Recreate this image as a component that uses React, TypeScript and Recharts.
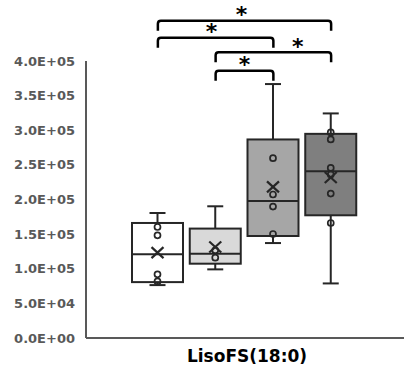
import React from 'react';
import { ComposedChart, Bar, XAxis, YAxis, ReferenceLine } from 'recharts';

const groups = ['G1', 'G2', 'G3', 'G4'];
const whiskerMin = [76400, 99100, 137100, 78800];
const q1 = [80700, 107300, 147300, 177200];
const median = [120800, 121800, 197900, 240900];
const q3 = [166100, 158000, 286700, 294800];
const whiskerMax = [180500, 190200, 366700, 324300];
const means = [123300, 131400, 218200, 231800];
const points = [
  [160300, 148300, 91900, 81700],
  [126600, 116000],
  [259700, 207200, 189800, 150200],
  [296900, 286700, 245600, 236100, 208600, 166100],
];
const fills = ['#ffffff', '#d9d9d9', '#a6a6a6', '#7f7f7f'];
const yTicks = [0, 50000, 100000, 150000, 200000, 250000, 300000, 350000, 400000];
const xLabel = 'LisoFS(18:0)';

// significance brackets: from group, to group, height value, star offset
const bracketFrom = ['G1', 'G1', 'G2', 'G2'];
const bracketTo = ['G4', 'G3', 'G4', 'G3'];
const bracketY = [458300, 433700, 412600, 386000];
const starDx = [-3, -4, 24.5, 0];
const starLabel = ['*', '*', '*', '*'];

const data = groups.map((g, i) => ({
  name: g,
  range: [whiskerMin[i], whiskerMax[i]],
  min: whiskerMin[i],
  max: whiskerMax[i],
  q1: q1[i],
  median: median[i],
  q3: q3[i],
  mean: means[i],
  points: points[i],
  fill: fills[i],
}));

const FONT = 'DejaVu Sans';
const STROKE = '#262626';

const fmt = (v: number) => {
  const [m, e] = v.toExponential(1).split('e');
  const sign = e[0];
  const digits = e.slice(1).padStart(2, '0');
  return `${m}E${sign}${digits}`;
};

const BoxShape = (props: any) => {
  const { x, y, width, height, payload } = props;
  const top = Math.min(y, y + height);
  const bottom = Math.max(y, y + height);
  const { min, max } = payload;
  const px = (v: number) => bottom - ((v - min) / (max - min)) * (bottom - top);
  const cx = x + width / 2;
  const cap = 8;
  const yq1 = px(payload.q1);
  const yq3 = px(payload.q3);
  const ymed = px(payload.median);
  const ymean = px(payload.mean);
  return (
    <g>
      <line x1={cx} x2={cx} y1={px(max)} y2={yq3} stroke={STROKE} strokeWidth={2} />
      <line x1={cx} x2={cx} y1={yq1} y2={px(min)} stroke={STROKE} strokeWidth={2} />
      <line x1={cx - cap} x2={cx + cap} y1={px(max)} y2={px(max)} stroke={STROKE} strokeWidth={2} />
      <line x1={cx - cap} x2={cx + cap} y1={px(min)} y2={px(min)} stroke={STROKE} strokeWidth={2} />
      <rect x={x} y={yq3} width={width} height={yq1 - yq3} fill={payload.fill} stroke={STROKE} strokeWidth={2} />
      <line x1={x} x2={x + width} y1={ymed} y2={ymed} stroke={STROKE} strokeWidth={2} />
      {payload.points.map((p: number, i: number) => (
        <circle key={i} cx={cx} cy={px(p)} r={3} fill="none" stroke={STROKE} strokeWidth={1.7} />
      ))}
      <line x1={cx - 6} x2={cx + 6} y1={ymean - 5.5} y2={ymean + 5.5} stroke={STROKE} strokeWidth={2.2} />
      <line x1={cx - 6} x2={cx + 6} y1={ymean + 5.5} y2={ymean - 5.5} stroke={STROKE} strokeWidth={2.2} />
    </g>
  );
};

const makeBracket = (dx: number, star: string) => (props: any) => {
  const { x1, y1, x2 } = props;
  const t = 10;
  const r = 3;
  const d = `M${x1},${y1 + t} L${x1},${y1 + r} Q${x1},${y1} ${x1 + r},${y1} L${x2 - r},${y1} Q${x2},${y1} ${x2},${y1 + r} L${x2},${y1 + t}`;
  return (
    <g>
      <path d={d} fill="none" stroke="#000" strokeWidth={2.5} />
      <text x={(x1 + x2) / 2 + dx} y={y1 + 1.5} textAnchor="middle" fontSize={22} fontWeight="bold" fontFamily={FONT} fill="#000">
        {star}
      </text>
    </g>
  );
};

export default function App() {
  return (
    <div style={{ position: 'absolute', left: 0, top: 0, background: '#fff' }}>
      <ComposedChart width={404} height={367} data={data} margin={{ top: 61, right: 0, bottom: 0, left: 0 }}>
        <XAxis
          dataKey="name"
          type="category"
          tick={false}
          tickLine={false}
          height={29}
          padding={{ left: 43, right: 44 }}
          axisLine={{ stroke: '#595959', strokeWidth: 2 }}
          label={{ value: xLabel, position: 'insideBottom', offset: 5.5, dx: 2, fill: '#000', fontSize: 17, fontWeight: 'bold', fontFamily: FONT }}
        />
        <YAxis
          type="number"
          domain={[0, 400000]}
          ticks={yTicks}
          width={86}
          tickLine={false}
          tickMargin={5}
          tickFormatter={fmt}
          axisLine={{ stroke: '#595959', strokeWidth: 2 }}
          tick={{ fill: '#595959', fontSize: 13, fontWeight: 'bold', fontFamily: FONT }}
          interval={0}
        />
        <Bar dataKey="range" barSize={51} isAnimationActive={false} shape={BoxShape} />
        {bracketY.map((by, i) => (
          <ReferenceLine
            key={i}
            segment={[{ x: bracketFrom[i], y: by }, { x: bracketTo[i], y: by }]}
            ifOverflow="visible"
            shape={makeBracket(starDx[i], starLabel[i])}
          />
        ))}
      </ComposedChart>
    </div>
  );
}
